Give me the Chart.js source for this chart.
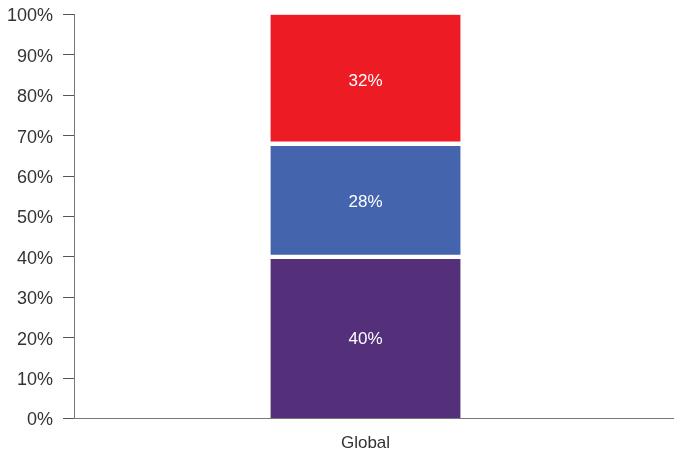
<!DOCTYPE html>
<html>
<head>
<meta charset="utf-8">
<script src="https://cdn.jsdelivr.net/npm/chart.js@4/dist/chart.umd.min.js"></script>
<style>
  html, body { margin: 0; padding: 0; background: #fff; }
  #wrap { width: 675px; height: 457px; }
</style>
</head>
<body>
<div id="wrap"><canvas id="chart"></canvas></div>
<script>
// data
const categories = ['Global'];
const seriesNames = ['Bottom', 'Middle', 'Top'];
const bottomValues = [40];
const middleValues = [28];
const topValues = [32];
const yTickStep = 10;

const colors = ['#55307a', '#4465ae', '#ed1c24'];
const FONT = "'Liberation Sans', Arial, sans-serif";

// white % labels in the middle of each segment
const segmentLabels = {
  id: 'segmentLabels',
  afterDatasetsDraw(chart) {
    const ctx = chart.ctx;
    ctx.save();
    ctx.fillStyle = '#ffffff';
    ctx.font = '17px ' + FONT;
    ctx.textAlign = 'center';
    ctx.textBaseline = 'middle';
    chart.data.datasets.forEach((ds, i) => {
      chart.getDatasetMeta(i).data.forEach((bar, j) => {
        const c = bar.getCenterPoint();
        ctx.fillText(ds.data[j] + '%', c.x, c.y + 2);
      });
    });
    ctx.restore();
  }
};

// the bottom axis line runs on past the plot to the right edge
const axisExtend = {
  id: 'axisExtend',
  afterDraw(chart) {
    const { ctx, chartArea } = chart;
    const y = Math.round(chart.scales.x.top - 0.5) + 0.5;
    ctx.save();
    ctx.strokeStyle = '#777';
    ctx.lineWidth = 1;
    ctx.beginPath();
    ctx.moveTo(chartArea.right, y);
    ctx.lineTo(chart.width - 1, y);
    ctx.stroke();
    ctx.restore();
  }
};

const seriesValues = [bottomValues, middleValues, topValues];
const borders = [
  { top: 2.5, bottom: 0, left: 0, right: 0 },
  { top: 2.5, bottom: 2.5, left: 0, right: 0 },
  { top: 0, bottom: 2.5, left: 0, right: 0 }
];

new Chart(document.getElementById('chart'), {
  type: 'bar',
  data: {
    labels: categories,
    datasets: seriesNames.map((name, i) => ({
      label: name,
      data: seriesValues[i],
      backgroundColor: colors[i],
      borderColor: '#ffffff',
      borderWidth: borders[i],
      borderSkipped: false,
      barThickness: 190
    }))
  },
  options: {
    responsive: true,
    maintainAspectRatio: false,
    animation: false,
    layout: { padding: { top: 0, right: 18, bottom: -12, left: -3 } },
    plugins: {
      legend: { display: false },
      tooltip: { enabled: false }
    },
    scales: {
      x: {
        stacked: true,
        grid: { display: false, tickLength: 0 },
        border: { display: true, color: '#777', width: 1 },
        ticks: { color: '#333', font: { family: FONT, size: 17, lineHeight: 0.5 }, padding: 21 }
      },
      y: {
        stacked: true,
        min: 0,
        max: 100,
        grid: { drawOnChartArea: false, drawTicks: true, tickLength: 11, color: '#555' },
        border: { display: true, color: '#777', width: 1 },
        ticks: {
          stepSize: yTickStep,
          color: '#333',
          padding: 10,
          labelOffset: 2,
          font: { family: FONT, size: 18, lineHeight: 0.5 },
          callback: v => v + '%'
        }
      }
    }
  },
  plugins: [segmentLabels, axisExtend]
});
</script>
</body>
</html>
